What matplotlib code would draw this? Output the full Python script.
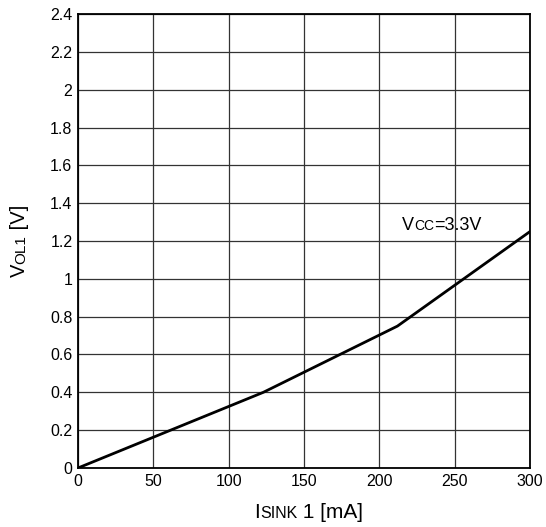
import matplotlib
matplotlib.use("Agg")
import matplotlib.pyplot as plt
from matplotlib.transforms import ScaledTranslation

plt.rcParams["font.family"] = ["Liberation Sans", "DejaVu Sans"]

# curve (Isink mA, Vol V)
isink = [0, 123, 212, 300]
vol = [0.0, 0.40, 0.75, 1.25]

x_ticks = [0, 50, 100, 150, 200, 250, 300]
y_ticks = [0, 0.2, 0.4, 0.6, 0.8, 1, 1.2, 1.4, 1.6, 1.8, 2, 2.2, 2.4]
y_tick_labels = ["0", "0.2", "0.4", "0.6", "0.8", "1", "1.2", "1.4", "1.6",
                 "1.8", "2", "2.2", "2.4"]

fig = plt.figure(figsize=(5.46, 5.27), dpi=100)
ax = fig.add_axes([0.1429, 0.112, 0.8278, 0.8614])

ax.plot(isink, vol, color="black", lw=2, solid_capstyle="round")

ax.set_xlim(0, 300)
ax.set_ylim(0, 2.4)
ax.set_xticks(x_ticks)
ax.set_yticks(y_ticks)
ax.set_yticklabels(y_tick_labels)
ax.tick_params(length=0, labelsize=11.5, pad=4)
ax.grid(True, color="#333333", lw=0.9)
for s in ax.spines.values():
    s.set_linewidth(1.3)

renderer = fig.canvas.get_renderer()


def chain_text(x, y, pieces, transform, rotation=0, center=False):
    """Write pieces [(text, size), ...] one after another on one baseline."""
    texts = []
    offset = 0.0
    for s, size in pieces:
        if rotation:
            tr = transform + ScaledTranslation(0, offset / fig.dpi, fig.dpi_scale_trans)
        else:
            tr = transform + ScaledTranslation(offset / fig.dpi, 0, fig.dpi_scale_trans)
        t = ax.text(x, y, s, size=size, transform=tr, rotation=rotation,
                    rotation_mode="anchor", ha="left", va="baseline",
                    clip_on=False)
        bb = t.get_window_extent(renderer)
        offset += bb.height if rotation else bb.width
        texts.append(t)
    if center:
        shift = -offset / 2
        for t in texts:
            if rotation:
                t.set_transform(t.get_transform()
                                + ScaledTranslation(0, shift / fig.dpi, fig.dpi_scale_trans))
            else:
                t.set_transform(t.get_transform()
                                + ScaledTranslation(shift / fig.dpi, 0, fig.dpi_scale_trans))
    return texts


chain_text(0.51, -0.11, [("I", 15), ("SINK", 11.5), (" 1 [mA]", 15)],
           ax.transAxes, center=True)
chain_text(-0.117, 0.5, [("V", 14.5), ("OL1", 11), (" [V]", 14.5)],
           ax.transAxes, rotation=90, center=True)
chain_text(215, 1.258, [("V", 13), ("CC", 10), ("=3.3V", 13)], ax.transData)

fig.savefig("out.png", dpi=100)
